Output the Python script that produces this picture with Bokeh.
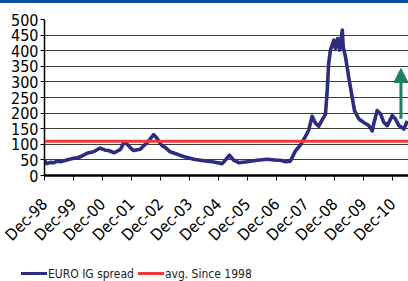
import math
from bokeh.plotting import figure
from bokeh.models import Range1d, FixedTicker, Span, Arrow, NormalHead, Div
from bokeh.layouts import column
from bokeh.embed import file_html
from bokeh.resources import INLINE

# years since Dec-1998
t_years = [0.00, 0.08, 0.20, 0.31, 0.45, 0.54, 0.77, 1.00, 1.13, 1.23, 1.46, 1.69, 1.92, 2.09,
           2.20, 2.40, 2.62, 2.72, 2.79, 2.90, 2.97, 3.07, 3.30, 3.47, 3.55, 3.64, 3.76, 3.87,
           3.99, 4.09, 4.16, 4.33, 4.57, 4.79, 5.14, 5.48, 5.83, 6.12, 6.23, 6.37, 6.52, 6.69,
           6.98, 7.32, 7.67, 8.01, 8.13, 8.30, 8.47, 8.64, 8.82, 8.99, 9.10, 9.22, 9.33, 9.45,
           9.57, 9.68, 9.74, 9.79, 9.85, 9.97, 10.02, 10.10, 10.17, 10.26, 10.29, 10.37, 10.48,
           10.60, 10.68, 10.83, 11.00, 11.17, 11.29, 11.34, 11.46, 11.58, 11.69, 11.81, 11.98,
           12.09, 12.21, 12.38, 12.50]
spread = [48, 38, 42, 41, 46, 44, 50, 55, 57, 60, 71, 76, 88, 81,
          80, 73, 84, 103, 106, 95, 88, 80, 84, 100, 106, 117, 131, 120,
          102, 93, 90, 76, 68, 61, 52, 47, 43, 38, 49, 65, 49, 41,
          44, 49, 52, 49, 49, 44, 46, 78, 98, 125, 145, 190, 168, 158,
          179, 197, 273, 359, 402, 434, 407, 439, 402, 466, 412, 380, 315,
          251, 208, 181, 170, 160, 143, 165, 208, 197, 170, 160, 192,
          181, 160, 149, 175]
avg_since_1998 = 110
tick_labels = ["Dec-98", "Dec-99", "Dec-00", "Dec-01", "Dec-02", "Dec-03", "Dec-04",
               "Dec-05", "Dec-06", "Dec-07", "Dec-08", "Dec-09", "Dec-10"]
y_ticks = [0, 50, 100, 150, 200, 250, 300, 350, 400, 450, 500]
legend_labels = ["EURO IG spread", "avg. Since 1998"]
arrow_t = 12.28
arrow_from, arrow_to = 182, 343

FONT = "'Liberation Sans Narrow', 'DejaVu Sans Condensed', 'Arial Narrow', sans-serif"
BLUE = "#2e2c7e"
RED = "#ee3a3a"
GREEN = "#1e8060"
W = 408

# top banner
bar = Div(width=W, height=3, margin=0, styles={"background-color": "#0b4f9c"})

# main chart
p = figure(width=W, height=262, output_backend="svg", toolbar_location=None,
           x_range=Range1d(0, 12.54), y_range=Range1d(0, 500),
           min_border_left=44, min_border_right=0, min_border_top=16, min_border_bottom=90)
p.outline_line_color = None
p.background_fill_color = "white"
p.border_fill_color = "white"

x_pos = list(range(len(tick_labels)))
p.xaxis.ticker = FixedTicker(ticks=x_pos)
p.xaxis.major_label_overrides = {i: lab for i, lab in zip(x_pos, tick_labels)}
p.xaxis.major_label_orientation = math.pi / 4
p.xaxis.axis_line_width = 2.5
p.xaxis.axis_line_color = "black"
p.xaxis.major_tick_out = 5
p.xaxis.major_tick_in = 0
p.xaxis.major_tick_line_color = "black"
p.xaxis.minor_tick_line_color = None
p.xaxis.major_label_text_font = FONT
p.xaxis.major_label_text_font_size = "16px"
p.xaxis.major_label_text_color = "black"
p.xaxis.major_label_standoff = 21

p.yaxis.ticker = FixedTicker(ticks=y_ticks)
p.yaxis.axis_line_width = 1.5
p.yaxis.axis_line_color = "black"
p.yaxis.major_tick_out = 4
p.yaxis.major_tick_in = 0
p.yaxis.major_tick_line_color = "black"
p.yaxis.minor_tick_line_color = None
p.yaxis.major_label_text_font = FONT
p.yaxis.major_label_text_font_size = "16px"
p.yaxis.major_label_text_color = "black"
p.yaxis.major_label_standoff = 2

p.xgrid.grid_line_color = None
p.ygrid.grid_line_color = "#3c3c3c"
p.ygrid.grid_line_width = 1

p.add_layout(Span(location=avg_since_1998, dimension="width", line_color=RED, line_width=3))
p.line(t_years, spread, line_color=BLUE, line_width=3.6, line_join="round")
p.add_layout(Arrow(end=NormalHead(size=14, fill_color=GREEN, line_color=GREEN),
                   x_start=arrow_t, y_start=arrow_from, x_end=arrow_t, y_end=arrow_to,
                   line_color=GREEN, line_width=3))

# legend strip (HTML)
swatch = ('<span style="display:inline-block;width:26px;height:3px;background:{c};'
          'vertical-align:middle;margin-right:1px"></span>')
items = "".join(
    swatch.format(c=c) + f'<span style="vertical-align:middle;margin-right:4px">{lab}</span>'
    for c, lab in zip([BLUE, RED], legend_labels))
lg = Div(width=W, height=16, margin=0,
         text=f'<div style="padding-left:21px;padding-top:1px;white-space:nowrap;'
              f'font-family:{FONT.replace(chr(39), "")};font-size:12px;color:#222;'
              f'line-height:14px">{items}</div>')

layout = column(bar, p, lg, spacing=0)
open("out.html", "w").write(file_html(layout, INLINE))
